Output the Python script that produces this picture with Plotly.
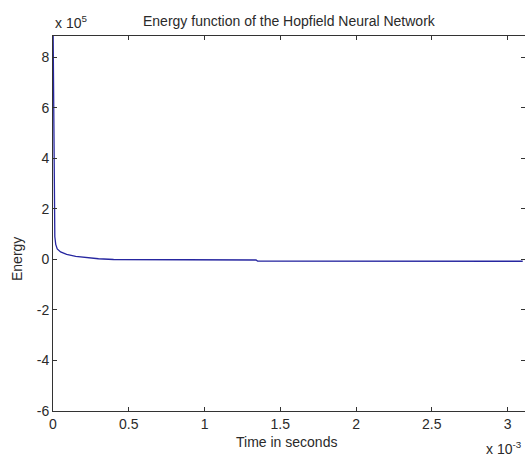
import plotly.graph_objects as go

# Time (s) and energy values
time_s = [0.0, 0.000004, 0.000008, 0.000012, 0.000018, 0.000028, 0.00005, 0.00009,
          0.00015, 0.0002, 0.0003, 0.0004, 0.0006, 0.001, 0.00134, 0.00135,
          0.002, 0.0025, 0.0031]
energy = [9.6e5, 6.0e5, 2.0e5, 0.9e5, 0.6e5, 0.42e5, 0.3e5, 0.2e5,
          0.12e5, 0.08e5, 0.03e5, 0.0, -0.01e5, -0.02e5, -0.02e5, -0.06e5,
          -0.06e5, -0.065e5, -0.07e5]

x_ticks = [0, 0.0005, 0.001, 0.0015, 0.002, 0.0025, 0.003]
x_labels = ["0", "0.5", "1", "1.5", "2", "2.5", "3"]
y_ticks = [-6e5, -4e5, -2e5, 0, 2e5, 4e5, 6e5, 8e5]
y_labels = ["-6", "-4", "-2", "0", "2", "4", "6", "8"]

font = dict(family="Liberation Sans, Arial, sans-serif", size=14, color="#2a2a2a")

L, R, T, B = 53, 0, 36, 45
W, H = 525, 456

fig = go.Figure()
fig.add_trace(go.Scatter(x=time_s, y=energy, mode="lines",
                         line=dict(color="#2626a0", width=1.3),
                         showlegend=False, hoverinfo="skip"))

axis_common = dict(showgrid=False, zeroline=False, showline=True, linecolor="#333333",
                   linewidth=1, ticks="inside", ticklen=4, tickcolor="#333333",
                   mirror="ticks", tickfont=font, automargin=False)

def px(xp, yp):
    return (xp - L) / (W - L - R), (H - B - yp) / (H - T - B)

ann = []
for text, xp, yp, anchor, angle in [
    ("Energy function of the Hopfield Neural Network", 289, 21, "center", 0),
    ("Time in seconds", 286, 442, "center", 0),
    ("Energy", 17, 259, "center", -90),
    ("x 10<sup>5</sup>", 53, 22, "left", 0),
    ("x 10<sup>-3</sup>", 524, 448, "right", 0),
]:
    xx, yy = px(xp, yp)
    ann.append(dict(text=text, x=xx, y=yy, xref="paper", yref="paper", xanchor=anchor,
                    yanchor="middle", textangle=angle, showarrow=False, font=font))

fig.update_layout(
    width=W, height=H,
    margin=dict(l=L, r=R, t=T, b=B, autoexpand=False),
    paper_bgcolor="white", plot_bgcolor="white",
    xaxis=dict(range=[0, 0.003115], tickvals=x_ticks, ticktext=x_labels, **axis_common),
    yaxis=dict(range=[-6e5, 8.85e5], tickvals=y_ticks, ticktext=y_labels, **axis_common),
    annotations=ann,
)

fig.write_html("out.html", config={"displayModeBar": False},
               post_script="document.body.style.margin='0';document.body.style.overflow='hidden';")
